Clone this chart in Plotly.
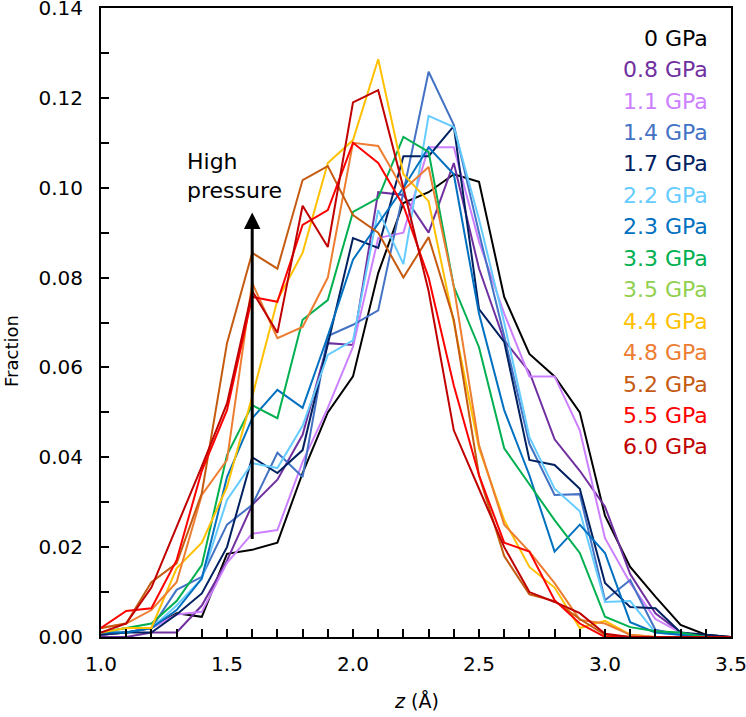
import plotly.graph_objects as go

z = [round(1.0 + 0.1 * i, 1) for i in range(26)]

labels = ["0 GPa", "0.8 GPa", "1.1 GPa", "1.4 GPa", "1.7 GPa", "2.2 GPa", "2.3 GPa",
          "3.3 GPa", "3.5 GPa", "4.4 GPa", "4.8 GPa", "5.2 GPa", "5.5 GPa", "6.0 GPa"]
colors = ["#000000", "#7030A0", "#CC80FF", "#4472C4", "#002060", "#66CCFF", "#0070C0",
          "#00B050", "#92D050", "#FFC000", "#ED7D31", "#C55A11", "#FF0000", "#C00000"]

p0_0 = [0.0005, 0.001, 0.002, 0.0053, 0.0045, 0.0185, 0.0194, 0.021, 0.0365, 0.050, 0.058, 0.081, 0.0966,
        0.099, 0.103, 0.1013, 0.0757, 0.063, 0.058, 0.050, 0.027, 0.0156, 0.009, 0.0027, 0.0005, 0.0]
p0_8 = [0.0, 0.0, 0.001, 0.001, 0.007, 0.017, 0.0294, 0.035, 0.045, 0.0654, 0.065, 0.099, 0.0984,
        0.090, 0.1055, 0.082, 0.066, 0.059, 0.044, 0.037, 0.029, 0.014, 0.0053, 0.001, 0.0, 0.0]
p1_1 = [0.0005, 0.001, 0.002, 0.005, 0.0056, 0.0165, 0.023, 0.0238, 0.039, 0.051, 0.0646, 0.0888, 0.090,
        0.109, 0.109, 0.088, 0.072, 0.058, 0.058, 0.046, 0.022, 0.012, 0.004, 0.001, 0.0, 0.0]
p1_4 = [0.001, 0.001, 0.002, 0.0105, 0.0134, 0.025, 0.0294, 0.041, 0.0356, 0.067, 0.0695, 0.0727, 0.099,
        0.1258, 0.114, 0.090, 0.067, 0.043, 0.0316, 0.0318, 0.0082, 0.0127, 0.0016, 0.0005, 0.0, 0.0]
p1_7 = [0.0005, 0.001, 0.001, 0.005, 0.0097, 0.020, 0.040, 0.0365, 0.0416, 0.065, 0.0888, 0.0866, 0.107,
        0.107, 0.1137, 0.073, 0.0657, 0.0394, 0.0383, 0.033, 0.012, 0.0067, 0.0064, 0.001, 0.0005, 0.0]
p2_2 = [0.001, 0.002, 0.002, 0.007, 0.013, 0.0305, 0.0387, 0.0376, 0.047, 0.0628, 0.066, 0.095, 0.083,
        0.116, 0.1135, 0.093, 0.070, 0.0445, 0.033, 0.028, 0.0078, 0.008, 0.001, 0.0005, 0.0, 0.0]
p2_3 = [0.001, 0.001, 0.002, 0.006, 0.013, 0.0356, 0.0487, 0.055, 0.051, 0.067, 0.084, 0.092, 0.100,
        0.109, 0.103, 0.072, 0.0505, 0.036, 0.019, 0.025, 0.0187, 0.0033, 0.001, 0.0005, 0.0, 0.0]
p3_3 = [0.001, 0.002, 0.003, 0.008, 0.016, 0.0405, 0.0516, 0.0487, 0.0706, 0.075, 0.0946, 0.0977, 0.1113,
        0.108, 0.078, 0.0645, 0.042, 0.034, 0.026, 0.0187, 0.0045, 0.0022, 0.0013, 0.001, 0.0, 0.0]
p3_5 = None  # listed in the key, no visible curve
p4_4 = [0.001, 0.002, 0.002, 0.0153, 0.021, 0.0334, 0.0535, 0.075, 0.0855, 0.1055, 0.1106, 0.1286, 0.103,
        0.097, 0.070, 0.042, 0.026, 0.0156, 0.011, 0.002, 0.0036, 0.0005, 0.0, 0.0, 0.0, 0.0]
p4_8 = [0.002, 0.003, 0.006, 0.0122, 0.0316, 0.0394, 0.0788, 0.0665, 0.069, 0.080, 0.110, 0.1093, 0.0995,
        0.1046, 0.078, 0.0427, 0.025, 0.019, 0.012, 0.0038, 0.003, 0.0005, 0.0, 0.0, 0.0, 0.0]
p5_2 = [0.002, 0.003, 0.0122, 0.0164, 0.032, 0.0654, 0.0855, 0.082, 0.1017, 0.1048, 0.0939, 0.090, 0.080,
        0.089, 0.0706, 0.036, 0.018, 0.0095, 0.008, 0.004, 0.0005, 0.0, 0.0, 0.0, 0.0, 0.0]
p5_5 = [0.002, 0.0058, 0.0064, 0.0171, 0.037, 0.0505, 0.0757, 0.0746, 0.0917, 0.095, 0.110, 0.1055, 0.096,
        0.080, 0.056, 0.036, 0.021, 0.019, 0.0082, 0.003, 0.0, 0.0, 0.0, 0.0, 0.0, 0.0]
p6_0 = [0.001, 0.003, 0.011, 0.0245, 0.038, 0.052, 0.077, 0.0677, 0.096, 0.0868, 0.119, 0.1217, 0.100,
        0.077, 0.046, 0.033, 0.020, 0.010, 0.0078, 0.0053, 0.0007, 0.0, 0.0, 0.0, 0.0, 0.0]

series = [p0_0, p0_8, p1_1, p1_4, p1_7, p2_2, p2_3, p3_3, p3_5, p4_4, p4_8, p5_2, p5_5, p6_0]

font = "DejaVu Sans, Arial, sans-serif"

fig = go.Figure()
for name, col, ys in zip(labels, colors, series):
    if ys is None:
        continue
    fig.add_trace(go.Scatter(x=z, y=ys, mode="lines", name=name,
                             line=dict(color=col, width=2)))

# key written as coloured text
for i, (name, col) in enumerate(zip(labels, colors)):
    fig.add_annotation(x=3.417, y=0.1333 - i * 0.00700, xref="x", yref="y",
                       text=name, showarrow=False, xanchor="right", yanchor="middle",
                       font=dict(family=font, size=22, color=col))

# arrow
fig.add_annotation(x=1.6, y=0.0945, ax=1.6, ay=0.0215, xref="x", yref="y",
                   axref="x", ayref="y", text="", showarrow=True,
                   arrowhead=2, arrowsize=1.1, arrowwidth=3, arrowcolor="black")
fig.add_annotation(x=1.335, y=0.1025, xref="x", yref="y", text="High<br>pressure",
                   showarrow=False, xanchor="left", yanchor="middle", align="left",
                   font=dict(family=font, size=22, color="black"))

# axis titles
fig.add_annotation(x=0.5, y=-0.102, xref="paper", yref="paper", text="<i>z</i> (Å)",
                   showarrow=False, xanchor="center", yanchor="middle",
                   font=dict(family=font, size=19, color="black"))
fig.add_annotation(x=-0.141, y=0.455, xref="paper", yref="paper", text="Fraction",
                   showarrow=False, xanchor="center", yanchor="middle", textangle=-90,
                   font=dict(family=font, size=18, color="black"))

axis_common = dict(showline=True, linecolor="black", linewidth=2, mirror=True,
                   ticks="inside", tickcolor="black", tickwidth=2, ticklen=8,
                   showgrid=False, zeroline=False, automargin=False,
                   ticklabeloverflow="allow",
                   tickfont=dict(family=font, size=20, color="black"))

fig.update_xaxes(range=[1.0, 3.5], tickvals=[1.0, 1.5, 2.0, 2.5, 3.0, 3.5],
                 ticktext=["1.0", "1.5", "2.0", "2.5", "3.0", "3.5"],
                 minor=dict(dtick=0.1, ticks="inside", ticklen=8, tickwidth=2, tickcolor="black"),
                 ticklabelstandoff=8, **axis_common)
fig.update_yaxes(range=[0, 0.14], dtick=0.02, tickformat=".2f",
                 minor=dict(dtick=0.01, ticks="inside", ticklen=8, tickwidth=2, tickcolor="black"),
                 ticklabelstandoff=12, **axis_common)

fig.update_layout(width=746, height=717, showlegend=False,
                  plot_bgcolor="white", paper_bgcolor="white",
                  margin=dict(l=101, r=15, t=8, b=80))

fig.write_html("out.html", config={"displayModeBar": False},
               post_script="document.body.style.margin='0';")
